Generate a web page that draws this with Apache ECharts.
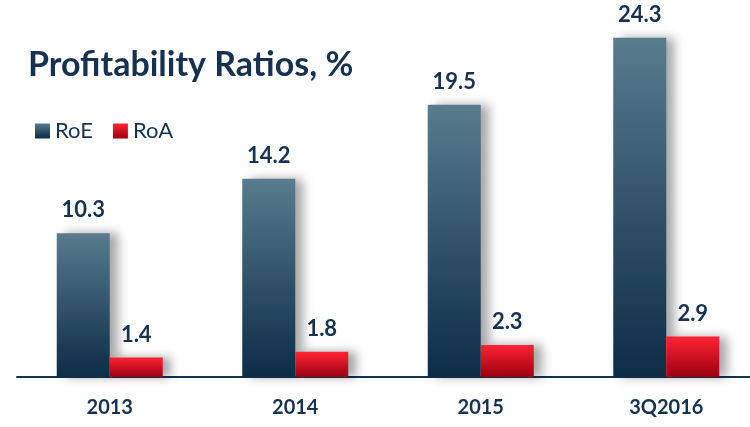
<!DOCTYPE html>
<html>
<head>
<meta charset="utf-8">
<script src="https://cdn.jsdelivr.net/npm/echarts@6/dist/echarts.min.js"></script>
<style>
  html, body { margin: 0; padding: 0; background: #fff; }
  #chart { width: 750px; height: 427px; }
</style>
</head>
<body>
<div id="chart"></div>
<script>
var categories = ['2013', '2014', '2015', '3Q2016'];
var roeValues = [10.3, 14.2, 19.5, 24.3];
var roaValues = [1.4, 1.8, 2.3, 2.9];

var navy = '#17324f';
var chart = echarts.init(document.getElementById('chart'));

function grad(top, bottom) {
    return new echarts.graphic.LinearGradient(0, 0, 0, 1, [
        { offset: 0, color: top },
        { offset: 1, color: bottom }
    ]);
}

var labelStyle = {
    show: true,
    position: 'top',
    distance: 12,
    fontFamily: 'Lato',
    fontWeight: 'bold',
    fontSize: 22,
    color: navy,
    formatter: function (p) { return p.value.toFixed(1); }
};

var option = {
    animation: false,
    title: {
        text: 'Profitability Ratios, %',
        left: 23,
        top: 43,
        textStyle: { fontFamily: 'Lato', fontWeight: 'bold', fontSize: 34, color: navy }
    },
    legend: {
        left: 30,
        top: 115,
        itemWidth: 15,
        itemHeight: 15,
        itemGap: 20,
        icon: 'rect',
        textStyle: { fontFamily: 'Lato', fontSize: 22, color: navy },
        data: ['RoE', 'RoA']
    },
    // grid runs past the right edge, like the axis line in the original
    grid: { left: 17, top: 0, width: 742, height: 377, outerBoundsMode: 'none', containLabel: false },
    xAxis: {
        type: 'category',
        data: categories,
        axisLine: { lineStyle: { color: '#123352', width: 2 } },
        axisTick: { show: false },
        axisLabel: {
            margin: 21,
            fontFamily: 'Lato',
            fontWeight: 'bold',
            fontSize: 20,
            color: navy
        }
    },
    yAxis: {
        type: 'value',
        min: 0,
        max: 27,
        show: false,
        splitLine: { show: false }
    },
    series: [
        {
            name: 'RoE',
            type: 'bar',
            barWidth: 53,
            barGap: '0%',
            data: roeValues,
            itemStyle: {
                color: grad('#587b8d', '#0c2c48'),
                shadowColor: 'rgba(0,0,0,0.35)',
                shadowBlur: 10,
                shadowOffsetX: 8
            },
            label: labelStyle
        },
        {
            name: 'RoA',
            type: 'bar',
            barWidth: 53,
            barGap: '0%',
            data: roaValues,
            itemStyle: {
                color: grad('#ff2334', '#9c0010'),
                shadowColor: 'rgba(0,0,0,0.35)',
                shadowBlur: 10,
                shadowOffsetX: 8
            },
            label: labelStyle
        }
    ]
};
chart.setOption(option);
</script>
</body>
</html>
